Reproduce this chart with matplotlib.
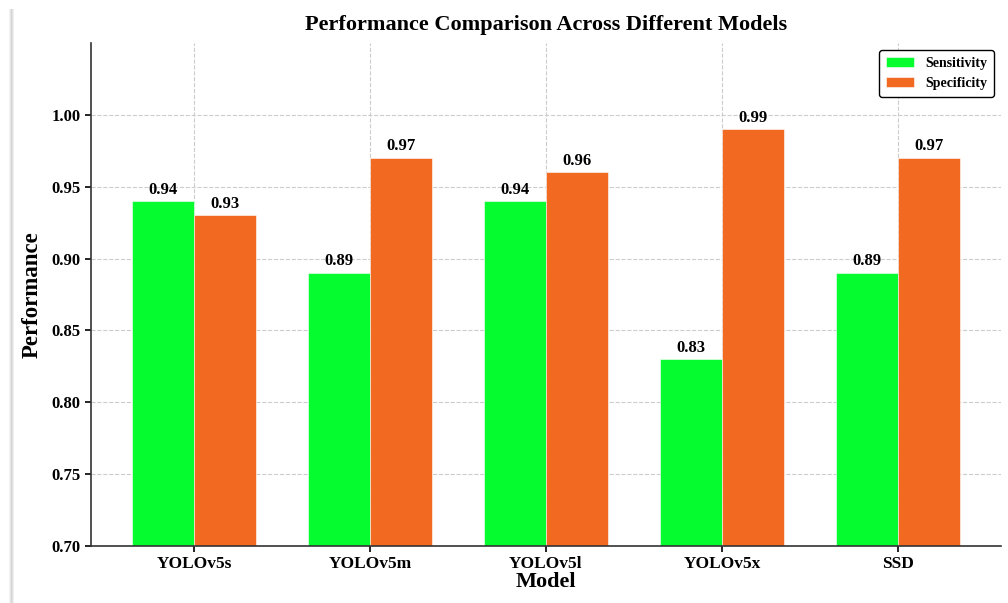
import matplotlib.pyplot as plt
from matplotlib.patches import Rectangle
import numpy as np

plt.rcParams['font.family'] = ['Liberation Serif', 'DejaVu Serif']
plt.rcParams['font.weight'] = 'bold'

models = ['YOLOv5s', 'YOLOv5m', 'YOLOv5l', 'YOLOv5x', 'SSD']
sensitivity = [0.94, 0.89, 0.94, 0.83, 0.89]
specificity = [0.93, 0.97, 0.96, 0.99, 0.97]

fig = plt.figure(figsize=(10.08, 6.03), dpi=100)
ax = fig.add_axes([0.0903, 0.0945, 0.9027, 0.8342])

# soft shadow strip along the left edge of the page
for i, a in enumerate([0.05, 0.10, 0.16, 0.12, 0.06]):
    fig.patches.append(Rectangle(((9 + i) / 1008, 0), 1 / 1008, 0.985,
                                 transform=fig.transFigure, color='black',
                                 alpha=a, lw=0))

x = np.arange(len(models))
w = 0.35
b1 = ax.bar(x - w / 2, sensitivity, w, color='#05fc2e', label='Sensitivity',
            edgecolor='white', linewidth=0.4, zorder=2)
b2 = ax.bar(x + w / 2, specificity, w, color='#f26a22', label='Specificity',
            edgecolor='white', linewidth=0.4, zorder=2)

for bars, vals in ((b1, sensitivity), (b2, specificity)):
    for bar, v in zip(bars, vals):
        ax.annotate(f'{v:.2f}', (bar.get_x() + bar.get_width() / 2, v),
                    xytext=(0, 2.5), textcoords='offset points',
                    ha='center', va='bottom', fontsize=12, fontweight='bold')

ax.set_ylim(0.70, 1.05)
ax.set_yticks(np.arange(0.70, 1.001, 0.05))
ax.set_xticks(x)
ax.set_xticklabels(models)
ax.tick_params(axis='x', labelsize=12.5, width=1.2, length=4)
ax.tick_params(axis='y', labelsize=12, width=1.2, length=4)
ax.grid(True, linestyle='--', color='#cccccc', linewidth=0.8, zorder=0)
ax.set_axisbelow(True)
for s in ('top', 'right'):
    ax.spines[s].set_visible(False)
for s in ('left', 'bottom'):
    ax.spines[s].set_linewidth(1.2)
    ax.spines[s].set_color('#333333')

ax.set_title('Performance Comparison Across Different Models',
             fontsize=16, fontweight='bold', pad=9)
ax.set_xlabel('Model', fontsize=16, fontweight='bold', labelpad=0)
ax.set_ylabel('Performance', fontsize=16.5, fontweight='bold', labelpad=6)

leg = ax.legend(loc='upper right', fontsize=10, frameon=True, fancybox=True,
                edgecolor='black', framealpha=1, borderpad=0.5,
                handlelength=2.0)
leg.get_frame().set_linewidth(1.0)

fig.savefig('out.png', dpi=100)
